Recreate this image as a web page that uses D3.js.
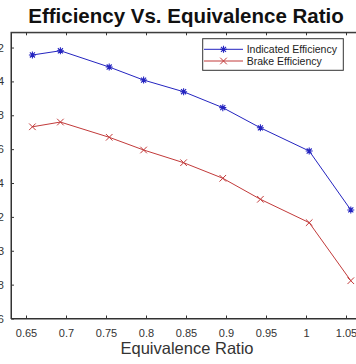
<!DOCTYPE html>
<html>
<head>
<meta charset="utf-8">
<script src="https://cdn.jsdelivr.net/npm/d3@7"></script>
<style>
  html, body { margin: 0; padding: 0; background: #ffffff; }
  svg { display: block; }
</style>
</head>
<body>
<svg id="chart" width="356" height="364"></svg>
<script>
const equivalenceRatio = [0.658, 0.693, 0.754, 0.797, 0.847, 0.896, 0.943, 1.004, 1.056];
const indicatedEfficiency = [0.4156, 0.4181, 0.4085, 0.4008, 0.3939, 0.3845, 0.3726, 0.3589, 0.3241];
const brakeEfficiency = [0.3732, 0.3760, 0.3670, 0.3595, 0.3520, 0.3428, 0.3304, 0.3166, 0.2823];
const xTicks = [0.65, 0.7, 0.75, 0.8, 0.85, 0.9, 0.95, 1, 1.05];
const xTickLabels = ["0.65", "0.7", "0.75", "0.8", "0.85", "0.9", "0.95", "1", "1.05"];
const yTicks = [0.26, 0.28, 0.3, 0.32, 0.34, 0.36, 0.38, 0.4, 0.42];
const yTickLabels = ["0.26", "0.28", "0.3", "0.32", "0.34", "0.36", "0.38", "0.4", "0.42"];
const seriesNames = ["Indicated Efficiency", "Brake Efficiency"];
const titleText = "Efficiency Vs. Equivalence Ratio";
const xLabelText = "Equivalence Ratio";

(function () {
const svg = d3.select("#chart");
const font = "'Liberation Sans', Arial, Helvetica, sans-serif";
const axisColor = "#333333";
const blue = "#2424c0";
const red = "#c23a3a";

const pl = 11, pr = 362, pt = 32.3, pb = 318.5;
const x = d3.scaleLinear().domain([0.63125, 1.07]).range([pl, pr]);
const y = d3.scaleLinear().domain([0.26, 0.429]).range([pb, pt]);

svg.append("rect").attr("x", pl).attr("y", pt)
  .attr("width", pr - pl).attr("height", pb - pt)
  .attr("fill", "#ffffff").attr("stroke", axisColor).attr("stroke-width", 1);

const xAxis = d3.axisBottom(x).tickValues(xTicks)
  .tickFormat((d, i) => xTickLabels[i]).tickSizeInner(-3).tickSizeOuter(0).tickPadding(11);
const gx = svg.append("g").attr("transform", `translate(0,${pb})`).call(xAxis);
gx.select(".domain").attr("stroke", axisColor);
gx.selectAll(".tick line").attr("stroke", axisColor);
gx.selectAll("text").attr("fill", "#333").style("font-family", font).style("font-size", "11px");

const xAxisTop = d3.axisTop(x).tickValues(xTicks).tickFormat("").tickSizeInner(-3).tickSizeOuter(0);
const gxt = svg.append("g").attr("transform", `translate(0,${pt})`).call(xAxisTop);
gxt.select(".domain").attr("stroke", axisColor);
gxt.selectAll(".tick line").attr("stroke", axisColor);

const yAxis = d3.axisLeft(y).tickValues(yTicks)
  .tickFormat((d, i) => yTickLabels[i]).tickSizeInner(-3).tickSizeOuter(0).tickPadding(7);
const gy = svg.append("g").attr("transform", `translate(${pl},0)`).call(yAxis);
gy.select(".domain").attr("stroke", axisColor);
gy.selectAll(".tick line").attr("stroke", axisColor);
gy.selectAll("text").attr("fill", "#333").style("font-family", font).style("font-size", "11px");

const line = d3.line().x(d => x(d[0])).y(d => y(d[1]));
const blueData = equivalenceRatio.map((v, i) => [v, indicatedEfficiency[i]]);
const redData = equivalenceRatio.map((v, i) => [v, brakeEfficiency[i]]);

svg.append("path").datum(blueData).attr("d", line)
  .attr("fill", "none").attr("stroke", blue).attr("stroke-width", 1);
svg.append("path").datum(redData).attr("d", line)
  .attr("fill", "none").attr("stroke", red).attr("stroke-width", 1);

function starMarker(g, cx, cy, color) {
  const s = 3.5;
  g.append("path")
    .attr("d", `M${cx - s},${cy}L${cx + s},${cy}M${cx},${cy - s}L${cx},${cy + s}` +
      `M${cx - s * 0.72},${cy - s * 0.72}L${cx + s * 0.72},${cy + s * 0.72}` +
      `M${cx - s * 0.72},${cy + s * 0.72}L${cx + s * 0.72},${cy - s * 0.72}`)
    .attr("stroke", color).attr("stroke-width", 1.1).attr("fill", "none");
}
function xMarker(g, cx, cy, color) {
  const s = 3.3;
  g.append("path")
    .attr("d", `M${cx - s},${cy - s}L${cx + s},${cy + s}M${cx - s},${cy + s}L${cx + s},${cy - s}`)
    .attr("stroke", color).attr("stroke-width", 1).attr("fill", "none");
}

const mg = svg.append("g");
blueData.forEach(d => starMarker(mg, x(d[0]), y(d[1]), blue));
redData.forEach(d => xMarker(mg, x(d[0]), y(d[1]), red));

const lg = svg.append("g");
lg.append("rect").attr("x", 202.7).attr("y", 38.7).attr("width", 140.6).attr("height", 31.6)
  .attr("fill", "#ffffff").attr("stroke", axisColor).attr("stroke-width", 1);
const legendRows = [
  { name: seriesNames[0], color: blue, marker: starMarker, yy: 49.3 },
  { name: seriesNames[1], color: red, marker: xMarker, yy: 61 }
];
legendRows.forEach(r => {
  lg.append("line").attr("x1", 204).attr("x2", 243).attr("y1", r.yy).attr("y2", r.yy)
    .attr("stroke", r.color).attr("stroke-width", 1);
  r.marker(lg, 223.5, r.yy, r.color);
  lg.append("text").attr("x", 246.7).attr("y", r.yy).attr("dy", "0.35em")
    .attr("fill", "#222").style("font-family", font).style("font-size", "10.5px").text(r.name);
});

svg.append("text").attr("x", 186).attr("y", 22.5).attr("text-anchor", "middle")
  .attr("fill", "#111").style("font-family", font).style("font-size", "20.5px")
  .style("font-weight", "bold").text(titleText);

svg.append("text").attr("x", 187).attr("y", 354).attr("text-anchor", "middle")
  .attr("fill", "#333").style("font-family", font).style("font-size", "16.5px").text(xLabelText);
})();
</script>
</body>
</html>
